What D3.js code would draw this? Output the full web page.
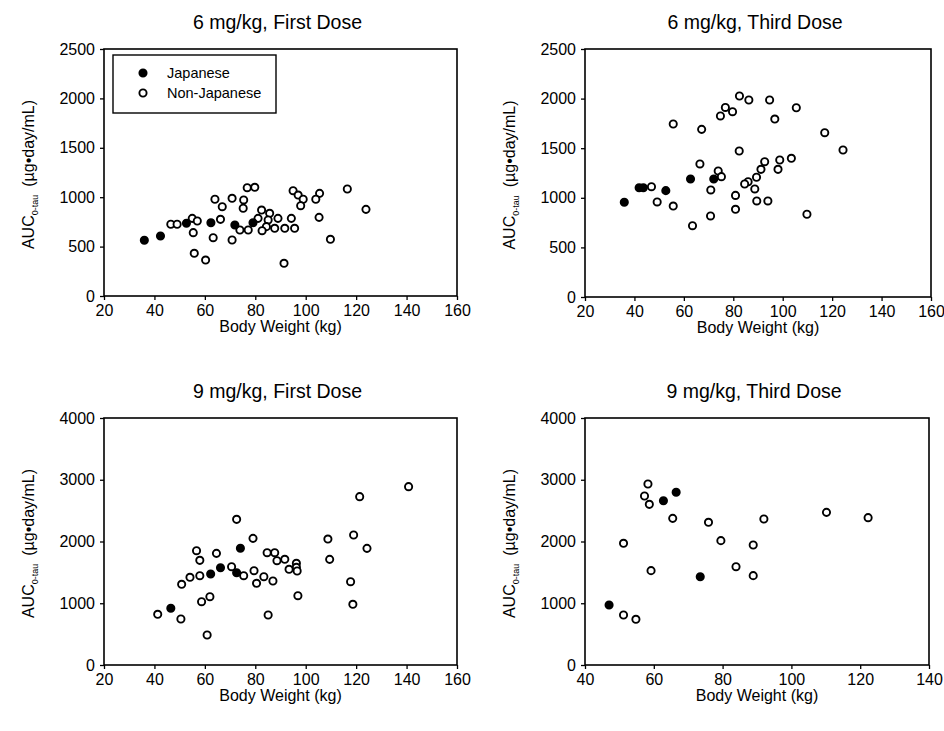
<!DOCTYPE html>
<html>
<head>
<meta charset="utf-8">
<script src="https://cdn.jsdelivr.net/npm/d3@7"></script>
<style>
  html, body { margin: 0; padding: 0; background: #fff; }
  svg { display: block; font-family: "Liberation Sans", Arial, sans-serif; }
</style>
</head>
<body>
<svg id="chart" width="944" height="731"></svg>
<script>
// Body weight (kg) vs AUC (µg·day/mL)
const p1Japanese = [[36, 564], [42.4, 607], [52.7, 736], [62.4, 742], [71.9, 719], [79.1, 742]];
const p1NonJapanese = [
  [46.5, 726], [49.0, 726], [55.0, 786], [57.0, 759], [55.4, 641], [55.8, 432], [60.3, 364],
  [64.0, 979], [66.9, 904], [66.2, 776], [63.3, 590], [70.8, 989], [70.8, 567], [73.9, 668],
  [77.2, 668], [75.4, 972], [75.2, 888], [76.8, 1096], [79.8, 1100], [81.1, 786], [82.5, 870],
  [85.7, 837], [85.1, 769], [84.4, 702], [87.7, 685], [91.7, 685], [95.6, 685], [89.0, 786],
  [94.3, 786], [95.0, 1066], [97.0, 1022], [99.0, 979], [98.0, 914], [105.5, 1039], [104.0, 979],
  [105.3, 796], [116.5, 1083], [123.9, 877], [109.8, 574], [91.4, 331], [82.7, 661]
];

const p2Japanese = [[35.9, 955], [41.9, 1102], [43.6, 1102], [52.7, 1072], [62.7, 1190], [72.1, 1190]];
const p2NonJapanese = [
  [46.9, 1112], [49.2, 958], [55.7, 917], [55.7, 1744], [63.5, 719], [67.2, 1690], [66.5, 1341],
  [70.8, 817], [70.9, 1079], [73.9, 1270], [75.2, 1213], [74.8, 1825], [76.8, 1911], [79.7, 1868],
  [82.5, 2026], [82.4, 1472], [80.9, 1024], [80.9, 884], [86.3, 1986], [94.7, 1986], [96.8, 1794],
  [105.5, 1908], [117.0, 1656], [124.4, 1482], [92.7, 1364], [98.8, 1381], [103.5, 1398],
  [91.2, 1287], [98.1, 1287], [89.4, 1207], [86.0, 1162], [84.6, 1139], [88.7, 1089], [89.5, 968],
  [94.0, 968], [109.8, 834]
];

const p3Japanese = [[46.5, 918], [62.3, 1474], [66.2, 1576], [72.6, 1495], [74.1, 1890]];
const p3NonJapanese = [
  [41.3, 821], [50.5, 745], [50.8, 1307], [54.1, 1420], [58.0, 1446], [56.7, 1851], [58.0, 1695],
  [58.7, 1025], [62.0, 1106], [60.9, 486], [64.6, 1808], [70.6, 1592], [72.6, 2359], [75.4, 1446],
  [79.1, 2051], [79.5, 1527], [80.5, 1323], [83.4, 1430], [84.7, 1819], [85.1, 810], [87.7, 1819],
  [88.6, 1689], [91.7, 1712], [96.3, 1647], [96.3, 1582], [93.4, 1550], [96.6, 1522], [87.0, 1360],
  [96.9, 1122], [108.8, 2040], [109.5, 1711], [119.0, 2105], [121.4, 2726], [124.3, 1889],
  [117.8, 1349], [118.7, 983], [140.8, 2888]
];

const p4Japanese = [[47.0, 972], [62.8, 2661], [66.5, 2797], [73.5, 1430]];
const p4NonJapanese = [
  [51.2, 810], [54.8, 740], [51.2, 1971], [58.3, 2931], [57.3, 2737], [58.7, 2602], [59.2, 1528],
  [65.5, 2375], [75.9, 2311], [79.5, 2014], [83.9, 1592], [88.9, 1943], [88.9, 1447], [92.0, 2364],
  [110.2, 2472], [122.3, 2386]
];

const titles = ["6 mg/kg, First Dose", "6 mg/kg, Third Dose", "9 mg/kg, First Dose", "9 mg/kg, Third Dose"];
const xTicksWide = [20, 40, 60, 80, 100, 120, 140, 160];
const xTicksNarrow = [40, 60, 80, 100, 120, 140];
const yTicks2500 = [0, 500, 1000, 1500, 2000, 2500];
const yTicks4000 = [0, 1000, 2000, 3000, 4000];
const legendLabels = ["Japanese", "Non-Japanese"];

const svg = d3.select("#chart");

const panels = [
  { box: [104, 457, 49, 296], xd: [20, 160], xt: xTicksWide, yd: [0, 2500], yt: yTicks2500,
    title: titles[0], jp: p1Japanese, nj: p1NonJapanese, legend: true },
  { box: [585, 931, 49, 297], xd: [20, 160], xt: xTicksWide, yd: [0, 2500], yt: yTicks2500,
    title: titles[1], jp: p2Japanese, nj: p2NonJapanese },
  { box: [104, 457, 418, 665], xd: [20, 160], xt: xTicksWide, yd: [0, 4000], yt: yTicks4000,
    title: titles[2], jp: p3Japanese, nj: p3NonJapanese },
  { box: [585, 929, 418, 665], xd: [40, 140], xt: xTicksNarrow, yd: [0, 4000], yt: yTicks4000,
    title: titles[3], jp: p4Japanese, nj: p4NonJapanese }
];

function drawMarker(sel, filled) {
  sel.attr("r", 3.6)
    .attr("fill", filled ? "#000" : "#fff")
    .attr("stroke", "#000")
    .attr("stroke-width", 1.9);
}

panels.forEach(p => {
  const [l, r, t, b] = p.box;
  const x = d3.scaleLinear().domain(p.xd).range([l, r]);
  const y = d3.scaleLinear().domain(p.yd).range([b, t]);
  const g = svg.append("g");

  // title
  g.append("text")
    .attr("x", (l + r) / 2 - 3)
    .attr("y", t - 20)
    .attr("text-anchor", "middle")
    .style("font-size", "19.5px")
    .text(p.title);

  // axes
  const xa = g.append("g")
    .attr("transform", `translate(0,${b})`)
    .call(d3.axisBottom(x).tickValues(p.xt).tickFormat(d3.format("d")).tickSize(4).tickSizeOuter(0));
  xa.selectAll("text").attr("y", 9).style("font-size", "16px").attr("fill", "#000");

  const ya = g.append("g")
    .attr("transform", `translate(${l},0)`)
    .call(d3.axisLeft(y).tickValues(p.yt).tickFormat(d3.format("d")).tickSize(4).tickSizeOuter(0).tickPadding(5));
  ya.selectAll("text").style("font-size", "16px").attr("fill", "#000");

  [xa, ya].forEach(a => {
    a.select(".domain").remove();
    a.selectAll("line").attr("stroke", "#000").attr("stroke-width", 1.3);
  });

  // frame
  g.append("rect")
    .attr("x", l).attr("y", t)
    .attr("width", r - l).attr("height", b - t)
    .attr("fill", "none")
    .attr("stroke", "#000")
    .attr("stroke-width", 1.6);

  // axis labels
  g.append("text")
    .attr("x", (l + r) / 2)
    .attr("y", b + 36)
    .attr("text-anchor", "middle")
    .style("font-size", "16px")
    .text("Body Weight (kg)");

  const yl = g.append("text")
    .attr("transform", `translate(${l - 70},${(t + b) / 2 + 2}) rotate(-90)`)
    .attr("text-anchor", "middle")
    .style("font-size", "16px");
  yl.append("tspan").text("AUC");
  yl.append("tspan").attr("dy", 4).style("font-size", "9px").text("0-tau");
  yl.append("tspan").attr("dy", -4).text("\u2002(\u00b5g\u2022day/mL)");

  // points
  g.append("g").selectAll("circle").data(p.nj).join("circle")
    .attr("cx", d => x(d[0])).attr("cy", d => y(d[1]))
    .call(drawMarker, false);
  g.append("g").selectAll("circle").data(p.jp).join("circle")
    .attr("cx", d => x(d[0])).attr("cy", d => y(d[1]))
    .call(drawMarker, true);

  if (p.legend) {
    const lg = g.append("g");
    lg.append("rect")
      .attr("x", l + 9).attr("y", t + 6)
      .attr("width", 163).attr("height", 58)
      .attr("fill", "#fff").attr("stroke", "#000").attr("stroke-width", 1.4);
    legendLabels.forEach((lab, i) => {
      lg.append("circle")
        .attr("cx", l + 39).attr("cy", t + 24 + i * 20)
        .call(drawMarker, i === 0);
      lg.append("text")
        .attr("x", l + 63).attr("y", t + 29 + i * 20)
        .style("font-size", "14.5px")
        .text(lab);
    });
  }
});
</script>
</body>
</html>
